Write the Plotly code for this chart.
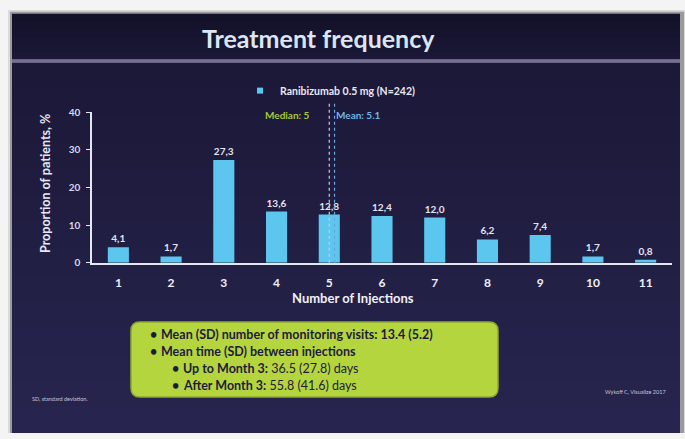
import plotly.graph_objects as go

# Distribution of injection counts
injections = [1, 2, 3, 4, 5, 6, 7, 8, 9, 10, 11]
proportion = [4.1, 1.7, 27.3, 13.6, 12.8, 12.4, 12.0, 6.2, 7.4, 1.7, 0.8]
series_name = "Ranibizumab 0.5 mg (N=242)"
median_injections = 5
mean_injections = 5.1
y_ticks = [0, 10, 20, 30, 40]

W, H = 685, 439
FONT = "Lato"
BAR = "#5cc6ee"


def px(x):
    return x / W


def py(y):
    return 1 - y / H


def mix(c0, c1, t):
    a = [int(c0[i:i + 2], 16) for i in (1, 3, 5)]
    b = [int(c1[i:i + 2], 16) for i in (1, 3, 5)]
    return "#" + "".join(f"{round(a[k] + (b[k] - a[k]) * t):02x}" for k in range(3))


shapes = []
# drop shadow around the slide
shapes.append(dict(type="rect", xref="paper", yref="paper", x0=px(8), x1=px(685),
                   y0=py(439), y1=py(4), fillcolor="#dadada", line_width=0, layer="below"))
shapes.append(dict(type="rect", xref="paper", yref="paper", x0=px(10), x1=px(684),
                   y0=py(439), y1=py(6), fillcolor="#9a9a9a", line_width=0, layer="below"))


def bands(y_top, y_bot, c_top, c_bot, n):
    step = (y_bot - y_top) / n
    for i in range(n):
        shapes.append(dict(type="rect", xref="paper", yref="paper",
                           x0=px(12), x1=px(680),
                           y0=py(min(y_top + (i + 1) * step + 2, y_bot)), y1=py(y_top + i * step),
                           fillcolor=mix(c_top, c_bot, i / max(n - 1, 1)),
                           line_width=0, layer="below"))


# title bar and body backgrounds
bands(8, 55, "#13112a", "#1b1736", 6)
bands(58, 439, "#1c1838", "#27254f", 14)
# separator under the title
shapes.append(dict(type="rect", xref="paper", yref="paper", x0=px(12), x1=px(680),
                   y0=py(58), y1=py(55), fillcolor="#766e96", line_width=0, layer="below"))

# median / mean markers
shapes.append(dict(type="line", xref="x", yref="paper", x0=median_injections, x1=median_injections,
                   y0=py(264), y1=py(100), line=dict(color="#c9c9e2", width=1.2, dash="dot")))
shapes.append(dict(type="line", xref="x", yref="paper", x0=mean_injections, x1=mean_injections,
                   y0=py(264), y1=py(100), line=dict(color="#6aa9dc", width=1.2, dash="dot")))

# summary box with rounded corners
bx0, bx1, by0, by1, r = 131, 498, 325, 402, 9
path = (f"M {px(bx0 + r)},{py(by0)} L {px(bx1 - r)},{py(by0)} "
        f"Q {px(bx1)},{py(by0)} {px(bx1)},{py(by0 + r)} "
        f"L {px(bx1)},{py(by1 - r)} Q {px(bx1)},{py(by1)} {px(bx1 - r)},{py(by1)} "
        f"L {px(bx0 + r)},{py(by1)} Q {px(bx0)},{py(by1)} {px(bx0)},{py(by1 - r)} "
        f"L {px(bx0)},{py(by0 + r)} Q {px(bx0)},{py(by0)} {px(bx0 + r)},{py(by0)} Z")
shapes.append(dict(type="path", xref="paper", yref="paper", path=path,
                   fillcolor="#b4d53e", line=dict(color="#8ea82e", width=1.5)))

fig = go.Figure()
fig.add_trace(go.Bar(
    x=injections, y=proportion, name=series_name, width=0.4,
    marker=dict(color=BAR, line_width=0),
    texttemplate="<b>%{y:.1f}</b>", textposition="outside", cliponaxis=False,
    textfont=dict(family=FONT, size=10, color="#e4e4f2"),
    showlegend=False,
))
# legend key: small square swatch in the bar colour
fig.add_trace(go.Scatter(
    x=[None], y=[None], mode="markers", name=f"<b>{series_name}</b>",
    marker=dict(symbol="square", size=6, color=BAR), showlegend=True,
))

text_dark = "#1d1b3a"
BOX_FS = 12.5
annotations = [
    dict(text="<b>Treatment frequency</b>", x=px(318), y=py(33), xanchor="center", yanchor="middle",
         font=dict(family=FONT, size=25, color="#dce6f4")),
    dict(text="<b>Median: 5</b>", x=px(263), y=py(112), xanchor="left", yanchor="middle",
         font=dict(family=FONT, size=10, color="#a5c83c")),
    dict(text="<b>Mean: 5.1</b>", x=px(334), y=py(112), xanchor="left", yanchor="middle",
         font=dict(family=FONT, size=10, color="#6db6e4")),
    dict(text="<b>Number of Injections</b>", x=px(290), y=py(300), xanchor="left", yanchor="middle",
         font=dict(family=FONT, size=13, color="#f0f0f8")),
    dict(text="<b>Proportion of patients, %</b>", x=px(46), y=py(183), xanchor="center", yanchor="middle",
         textangle=-90, font=dict(family=FONT, size=12.5, color="#e8e8f4")),
    dict(text="<b>•</b>", x=px(148), y=py(338), xanchor="left", yanchor="middle",
         font=dict(family=FONT, size=BOX_FS, color=text_dark)),
    dict(text="<b>Mean (SD) number of monitoring visits: 13.4 (5.2)</b>", x=px(159), y=py(338),
         xanchor="left", yanchor="middle", font=dict(family=FONT, size=BOX_FS, color=text_dark)),
    dict(text="<b>•</b>", x=px(148), y=py(355), xanchor="left", yanchor="middle",
         font=dict(family=FONT, size=BOX_FS, color=text_dark)),
    dict(text="<b>Mean time (SD) between injections</b>", x=px(159), y=py(355),
         xanchor="left", yanchor="middle", font=dict(family=FONT, size=BOX_FS, color=text_dark)),
    dict(text="<b>•</b>", x=px(170), y=py(373), xanchor="left", yanchor="middle",
         font=dict(family=FONT, size=BOX_FS, color=text_dark)),
    dict(text="<b>Up to Month 3:</b> 36.5 (27.8) days", x=px(181), y=py(373),
         xanchor="left", yanchor="middle", font=dict(family=FONT, size=BOX_FS, color=text_dark)),
    dict(text="<b>•</b>", x=px(170), y=py(390), xanchor="left", yanchor="middle",
         font=dict(family=FONT, size=BOX_FS, color=text_dark)),
    dict(text="<b>After Month 3:</b> 55.8 (41.6) days", x=px(181), y=py(390),
         xanchor="left", yanchor="middle", font=dict(family=FONT, size=BOX_FS, color=text_dark)),
    dict(text="SD, standard deviation.", x=px(30), y=py(404), xanchor="left", yanchor="middle",
         font=dict(family=FONT, size=5.5, color="#c4c4dc")),
    dict(text="Wykoff C, Visualize 2017", x=px(668), y=py(397), xanchor="right", yanchor="middle",
         font=dict(family=FONT, size=5.5, color="#c4c4dc")),
]
for a in annotations:
    a.update(xref="paper", yref="paper", showarrow=False)

fig.update_layout(
    width=W, height=H,
    margin=dict(l=0, r=0, t=0, b=0),
    paper_bgcolor="#f4f4f4",
    plot_bgcolor="rgba(0,0,0,0)",
    separators=",.",
    font=dict(family=FONT, color="#e8e8f4"),
    shapes=shapes,
    annotations=annotations,
    showlegend=True,
    legend=dict(x=px(240), y=py(87), xanchor="left", yanchor="middle",
                bgcolor="rgba(0,0,0,0)", itemwidth=30,
                font=dict(family=FONT, size=10.5, color="#e8e8f4")),
    xaxis=dict(
        domain=[px(92), px(672)], range=[0.5, 11.5],
        tickvals=injections, ticktext=[f"<b>{v}</b>" for v in injections],
        tickfont=dict(family=FONT, size=12, color="#f0f0f8"),
        showline=True, linecolor="#e6e6f2", linewidth=2, ticklabelstandoff=8,
        showgrid=False, zeroline=False, ticks="", ticklen=0,
    ),
    yaxis=dict(
        domain=[py(264), py(109)], range=[0, 40],
        tickvals=y_ticks, ticktext=[f"<b>{v}</b>" for v in y_ticks],
        tickfont=dict(family=FONT, size=10, color="#d8d8ea"),
        showline=True, linecolor="#e6e6f2", linewidth=1.5, ticklabelstandoff=4,
        ticks="outside", ticklen=4, tickcolor="#e6e6f2", tickwidth=1,
        showgrid=False, zeroline=False,
    ),
)

fig.write_html("out.html")
